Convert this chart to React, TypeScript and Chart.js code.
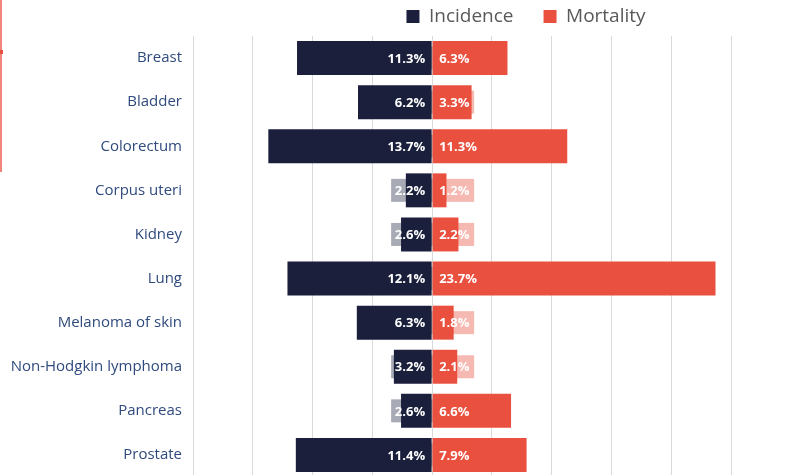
import React, { useEffect, useRef } from "react";
import { Chart, registerables } from "chart.js";

Chart.register(...registerables);

const categories = [
  "Breast",
  "Bladder",
  "Colorectum",
  "Corpus uteri",
  "Kidney",
  "Lung",
  "Melanoma of skin",
  "Non-Hodgkin lymphoma",
  "Pancreas",
  "Prostate",
];
const incidence = [11.3, 6.2, 13.7, 2.2, 2.6, 12.1, 6.3, 3.2, 2.6, 11.4];
const mortality = [6.3, 3.3, 11.3, 1.2, 2.2, 23.7, 1.8, 2.1, 6.6, 7.9];
const seriesNames = ["Incidence", "Mortality"];

const NAVY = "#1b1f3c";
const RED = "#e9503f";
const NAVY_LIGHT = "rgba(27,31,60,0.38)";
const RED_LIGHT = "rgba(233,80,63,0.4)";

const valueLabels = {
  id: "valueLabels",
  afterDatasetsDraw(chart: any) {
    const ctx = chart.ctx;
    const x0 = chart.scales.x.getPixelForValue(0);
    chart.data.datasets.forEach((ds: any, di: number) => {
      const meta = chart.getDatasetMeta(di);
      meta.data.forEach((el: any, i: number) => {
        const v = ds.data[i] as number;
        const y = el.y;
        ctx.save();
        ctx.fillStyle = di === 0 ? NAVY_LIGHT : RED_LIGHT;
        if (di === 0) ctx.fillRect(x0 - 41, y - 11.5, 41, 23);
        else ctx.fillRect(x0, y - 11.5, 42, 23);
        ctx.fillStyle = "#ffffff";
        ctx.font = 'bold 13px "Open Sans"';
        ctx.textBaseline = "middle";
        ctx.textAlign = di === 0 ? "right" : "left";
        ctx.fillText(Math.abs(v).toFixed(1) + "%", di === 0 ? x0 - 7 : x0 + 7, y + 1);
        ctx.restore();
      });
    });
  },
};

export default function App() {
  const ref = useRef<HTMLCanvasElement | null>(null);

  useEffect(() => {
    document.body.style.margin = "0";
    const chart = new Chart(ref.current as HTMLCanvasElement, {
      type: "bar",
      data: {
        labels: categories,
        datasets: [
          {
            label: seriesNames[0],
            data: incidence.map((v) => -v),
            backgroundColor: NAVY,
            borderWidth: 0,
            barPercentage: 0.77,
            categoryPercentage: 1,
          },
          {
            label: seriesNames[1],
            data: mortality,
            backgroundColor: RED,
            borderWidth: 0,
            barPercentage: 0.77,
            categoryPercentage: 1,
          },
        ],
      },
      options: {
        indexAxis: "y",
        animation: false,
        responsive: true,
        maintainAspectRatio: false,
        layout: { padding: 0 },
        plugins: {
          tooltip: { enabled: false },
          legend: {
            display: true,
            position: "top",
            fullSize: false,
            labels: {
              boxWidth: 13,
              boxHeight: 13,
              padding: 30,
              color: "#595959",
              font: { family: '"Open Sans"', size: 19 },
            },
          },
        },
        scales: {
          x: {
            stacked: true,
            min: -20,
            max: 35.7,
            ticks: { display: false, stepSize: 5 },
            grid: { color: "#d9d9d9", lineWidth: 1, drawTicks: false },
            border: { display: false },
            afterFit: (s: any) => {
              s.height = 0;
            },
          },
          y: {
            stacked: true,
            grid: { display: false, drawTicks: false },
            border: { display: false },
            ticks: {
              color: "#2f4a7d",
              padding: 11,
              font: { family: '"Open Sans"', size: 15 },
            },
            afterFit: (s: any) => {
              s.width = 193;
            },
          },
        },
      },
      plugins: [valueLabels],
    } as any);
    return () => chart.destroy();
  }, []);

  return (
    <div
      style={{
        position: "fixed",
        left: 0,
        top: 0,
        width: 786,
        height: 475,
        overflow: "hidden",
        background: "#fff",
      }}
    >
      <div style={{ position: "absolute", left: 0, top: -23, width: 859, height: 520 }}>
        <canvas ref={ref} />
      </div>
      <div style={{ position: "absolute", left: 0, top: 0, width: 2, height: 172, background: "#f4857c" }} />
      <div style={{ position: "absolute", left: 0, top: 50, width: 3, height: 4, background: "#e8503f" }} />
    </div>
  );
}
